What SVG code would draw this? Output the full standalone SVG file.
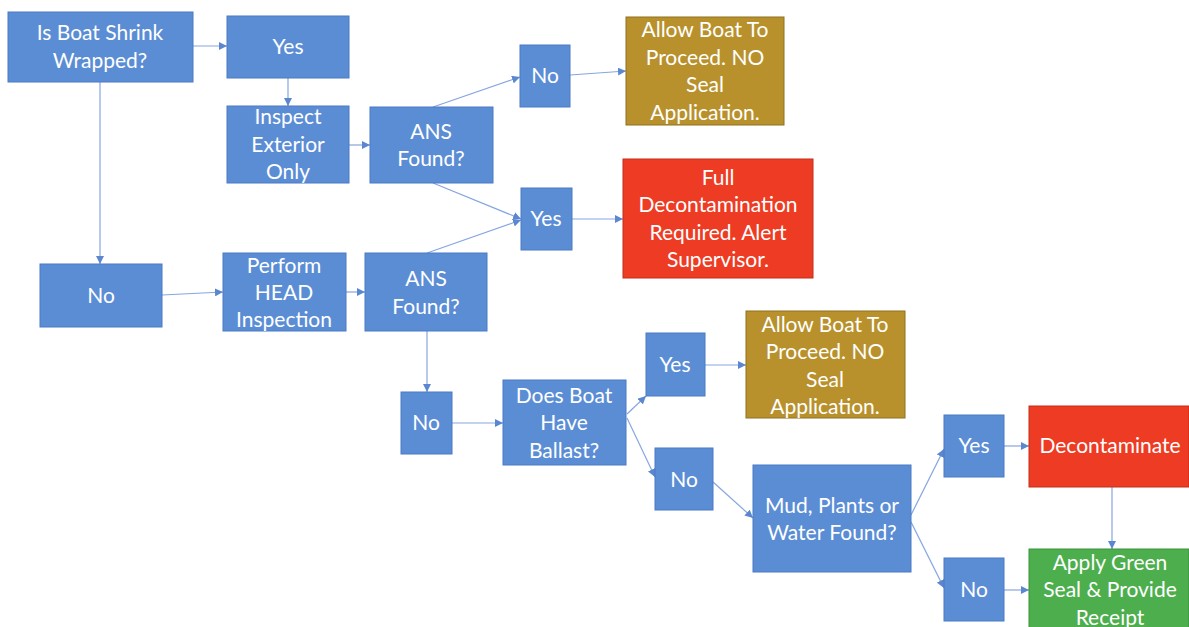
<svg xmlns="http://www.w3.org/2000/svg" width="1189" height="627" viewBox="0 0 1189 627">
<defs>
<style>
.b{fill:#5B8DD5;stroke:#4A7BC4;stroke-width:1}
.g{fill:#B8912C;stroke:#8F7020;stroke-width:1}
.r{fill:#EE3B23;stroke:#C42E1A;stroke-width:1}
.gr{fill:#4DAE4E;stroke:#3C8F3D;stroke-width:1}
text{font-family:Lato,"Open Sans","DejaVu Sans",sans-serif;font-size:21px;fill:#ffffff;text-anchor:middle}
.c line{stroke:#86A6E0;stroke-width:1.2;fill:none;marker-end:url(#ah)}
</style>
<marker id="ah" viewBox="0 0 10 10" refX="10" refY="5" markerWidth="8" markerHeight="8" orient="auto" markerUnits="userSpaceOnUse">
<path d="M0,0 L10,5 L0,10 z" fill="#5B87D0"/>
</marker>
</defs>
<rect width="1189" height="627" fill="#ffffff"/>
<g class="c" id="connectors">
<line x1="193" y1="46" x2="227" y2="46"/>
<line x1="288" y1="78" x2="288" y2="106"/>
<line x1="349" y1="145" x2="370" y2="145"/>
<line x1="433" y1="107" x2="520" y2="77"/>
<line x1="570" y1="75" x2="626" y2="71"/>
<line x1="433" y1="183" x2="521" y2="219"/>
<line x1="427" y1="253" x2="521" y2="220"/>
<line x1="572" y1="219" x2="623" y2="219"/>
<line x1="100" y1="82" x2="100" y2="264"/>
<line x1="162" y1="295" x2="223" y2="292"/>
<line x1="346" y1="292" x2="365" y2="292"/>
<line x1="427" y1="331" x2="427" y2="392"/>
<line x1="452" y1="423" x2="503" y2="423"/>
<line x1="627" y1="414" x2="646" y2="396"/>
<line x1="705" y1="365" x2="746" y2="365"/>
<line x1="627" y1="418" x2="655" y2="477"/>
<line x1="713" y1="482" x2="753" y2="518"/>
<line x1="911" y1="515" x2="944" y2="449"/>
<line x1="911" y1="522" x2="944" y2="588"/>
<line x1="1004" y1="446" x2="1029" y2="446"/>
<line x1="1004" y1="590" x2="1029" y2="590"/>
<line x1="1112" y1="487" x2="1112" y2="549"/>
</g>
<g id="shrink"><rect class="b" x="8" y="12" width="185" height="70"/><text x="100" y="40">Is Boat Shrink</text><text x="100" y="68">Wrapped?</text></g>
<g id="yes1"><rect class="b" x="227" y="16" width="122" height="62"/><text x="288" y="54">Yes</text></g>
<g id="inspect"><rect class="b" x="227" y="106" width="122" height="77"/><text x="288" y="124">Inspect</text><text x="288" y="152">Exterior</text><text x="288" y="179">Only</text></g>
<g id="ans1"><rect class="b" x="370" y="107" width="123" height="76"/><text x="431" y="139">ANS</text><text x="431" y="166">Found?</text></g>
<g id="no1"><rect class="b" x="520" y="45" width="50" height="62"/><text x="545" y="83">No</text></g>
<g id="allow1"><rect class="g" x="626" y="17" width="158" height="108"/><text x="705" y="37">Allow Boat To</text><text x="705" y="65">Proceed. NO</text><text x="705" y="92">Seal</text><text x="705" y="120">Application.</text></g>
<g id="yes2"><rect class="b" x="521" y="188" width="51" height="62"/><text x="546" y="226">Yes</text></g>
<g id="full"><rect class="r" x="623" y="159" width="190" height="119"/><text x="718" y="185">Full</text><text x="718" y="212">Decontamination</text><text x="718" y="240">Required. Alert</text><text x="718" y="267">Supervisor.</text></g>
<g id="no2"><rect class="b" x="40" y="264" width="122" height="63"/><text x="101" y="303">No</text></g>
<g id="perform"><rect class="b" x="223" y="253" width="123" height="78"/><text x="284" y="273">Perform</text><text x="284" y="300">HEAD</text><text x="284" y="327">Inspection</text></g>
<g id="ans2"><rect class="b" x="365" y="253" width="122" height="78"/><text x="426" y="286">ANS</text><text x="426" y="314">Found?</text></g>
<g id="no3"><rect class="b" x="401" y="392" width="51" height="62"/><text x="426" y="430">No</text></g>
<g id="ballast"><rect class="b" x="503" y="380" width="123" height="85"/><text x="564" y="403">Does Boat</text><text x="564" y="430">Have</text><text x="564" y="458">Ballast?</text></g>
<g id="yes3"><rect class="b" x="646" y="333" width="59" height="63"/><text x="675" y="372">Yes</text></g>
<g id="allow2"><rect class="g" x="746" y="311" width="159" height="107"/><text x="825" y="332">Allow Boat To</text><text x="825" y="359">Proceed. NO</text><text x="825" y="387">Seal</text><text x="825" y="414">Application.</text></g>
<g id="no4"><rect class="b" x="655" y="448" width="58" height="62"/><text x="684" y="487">No</text></g>
<g id="mud"><rect class="b" x="753" y="465" width="158" height="107"/><text x="832" y="513">Mud, Plants or</text><text x="832" y="540">Water Found?</text></g>
<g id="yes4"><rect class="b" x="944" y="415" width="60" height="62"/><text x="974" y="453">Yes</text></g>
<g id="decon"><rect class="r" x="1029" y="406" width="160" height="81"/><text x="1110" y="453">Decontaminate</text></g>
<g id="no5"><rect class="b" x="944" y="558" width="60" height="63"/><text x="974" y="597">No</text></g>
<g id="apply"><rect class="gr" x="1029" y="549" width="160" height="80"/><text x="1110" y="570">Apply Green</text><text x="1110" y="597">Seal &amp; Provide</text><text x="1110" y="625">Receipt</text></g>
</svg>
